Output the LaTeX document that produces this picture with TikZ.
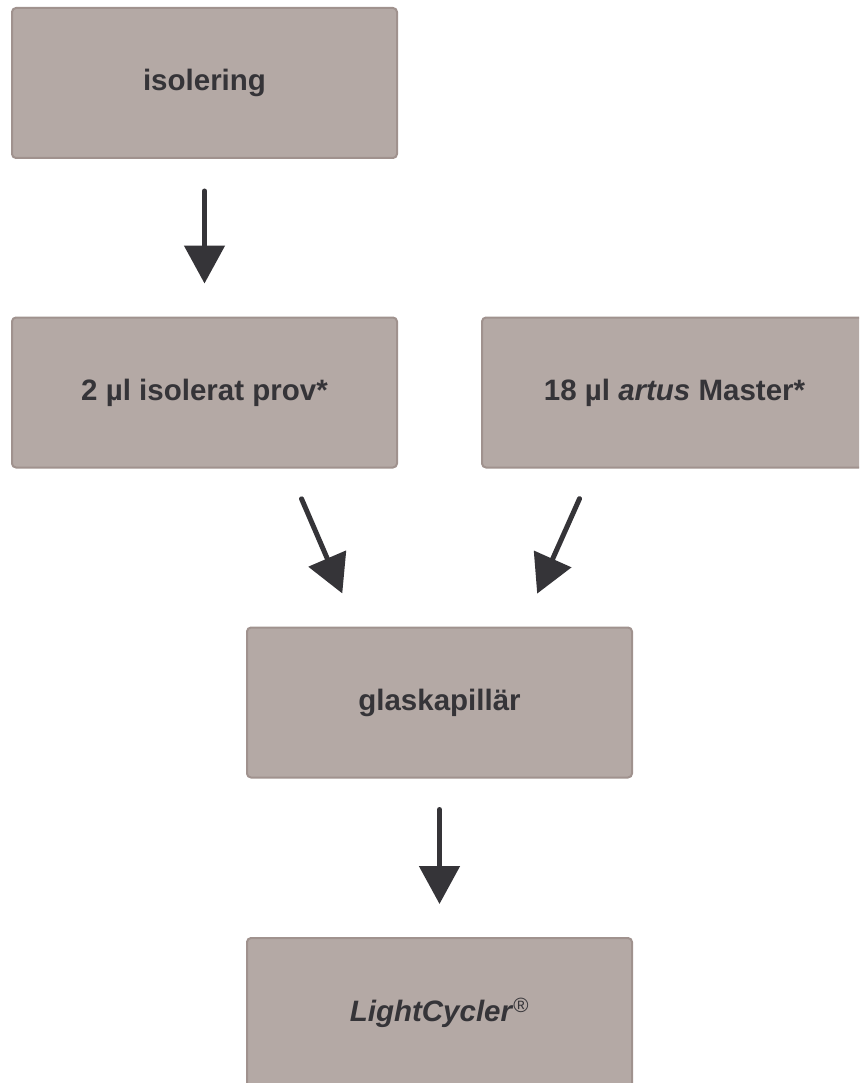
\documentclass[tikz,border=0pt]{standalone}
\usepackage{fontspec}
\setmainfont{Liberation Sans}
\usetikzlibrary{arrows.meta}
\definecolor{boxfill}{HTML}{B4A9A5}
\definecolor{boxline}{HTML}{A0928E}
\definecolor{ink}{HTML}{353438}
\begin{document}
\begin{tikzpicture}[x=1pt, y=1pt,
		every node/.style = {shape=rectangle, rounded corners=4pt,
			draw=boxline, line width=2pt, fill=boxfill, align=center,
			text=ink, font=\fontsize{29.5}{34}\selectfont\bfseries,
			minimum width=385pt, minimum height=150pt, inner sep=0pt},
		flow/.style = {ink, line width=5pt, line cap=round,
			-{Triangle[width=40pt, length=38pt]}}]
		\useasboundingbox (0,0) rectangle (859,-1083);
		\clip (0,0) rectangle (859,-1083);
		\node (iso) at (204.5,-83) {isolering};
		\node (prov) at (204.5,-392.5) {2 µl isolerat prov*};
		\node (master) at (674.5,-392.5) {18 µl \textit{artus} Master*};
		\node (glas) at (439.5,-702.5) {glaskapillär};
		\node (light) at (439.5,-1013) {\textit{LightCycler}\textsuperscript{\mdseries ®}};
		% arrows
		\draw[flow, shorten <=32pt, shorten >=33pt] (iso.south) -- (prov.north);
		\draw[flow, shorten <=33pt, shorten >=36pt] ([xshift=84pt]prov.south) -- ([xshift=-83pt]glas.north);
		\draw[flow, shorten <=33pt, shorten >=36pt] ([xshift=-81.5pt]master.south) -- ([xshift=83pt]glas.north);
		\draw[flow, shorten <=31pt, shorten >=33pt] (glas.south) -- (light.north);
	\end{tikzpicture}
\end{document}
